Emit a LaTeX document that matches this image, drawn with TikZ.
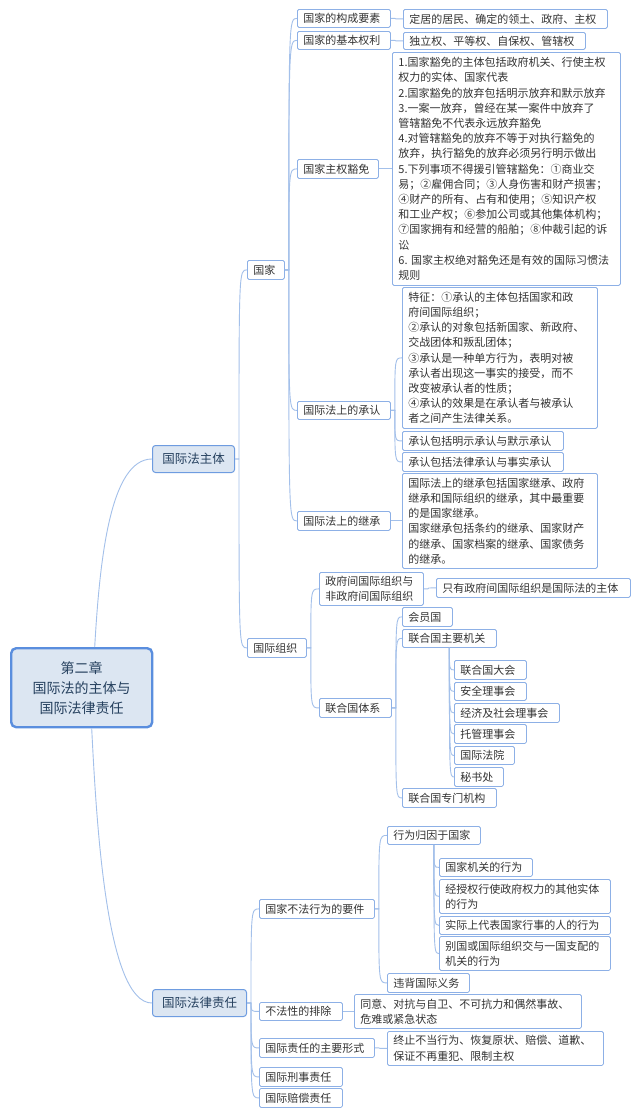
\documentclass[tikz,border=0pt]{standalone}
\usepackage{fontspec}
\newfontfamily\cjk{Noto Sans CJK SC}
\usetikzlibrary{calc}
\definecolor{linec}{HTML}{A3C0EA}
\definecolor{leafb}{HTML}{8DB0E6}
\definecolor{lonef}{HTML}{DCE6F2}
\definecolor{loneb}{HTML}{6E9CE0}
\definecolor{rootb}{HTML}{5A8EDE}
\definecolor{txt}{HTML}{333333}
\definecolor{txtone}{HTML}{25405E}
\begin{document}
\begin{tikzpicture}[x=1pt,y=-1pt,
  con/.style={draw=linec, line width=0.9pt},
  br/.style={to path={let \p1=(\tikztostart), \p2=(\tikztotarget) in -- (\x1+4pt,\y1) .. controls (\x1+4pt,\y2) .. (\p2)}},
  tr/.style={to path={let \p1=(\tikztostart), \p2=(\tikztotarget) in .. controls (\x1,\y2) .. (\p2)}},
  lf/.style={draw=leafb, fill=white, line width=0.8pt, rounded corners=1.5pt, anchor=north west,
    inner xsep=6pt, inner ysep=0pt, align=left, text=txt, font=\cjk\fontsize{11}{15.2}\selectfont},
  lone/.style={draw=loneb, fill=lonef, line width=1pt, rounded corners=3pt, anchor=north west,
    inner sep=0pt, align=center, text=txtone, font=\cjk\fontsize{12.5}{15}\selectfont},
  rootbox/.style={draw=rootb, fill=lonef, line width=2.4pt, rounded corners=5pt, anchor=north west,
    inner sep=0pt, align=center, text=txtone, font=\cjk\fontsize{14}{20}\selectfont}
]
\useasboundingbox (0,0) rectangle (640,1117);
\fill[white] (0,0) rectangle (640,1117);

% root and level 1
\node[rootbox, minimum width=141pt, minimum height=79pt] (root) at (10,647) {第二章\\国际法的主体与\\国际法律责任};
\node[lone, minimum width=82pt, minimum height=27pt] (zhuti) at (152,445) {国际法主体};
\node[lone, minimum width=94pt, minimum height=27pt] (zeren) at (152,989) {国际法律责任};

% 国家 branch
\node[lf, text width=25pt, minimum height=19pt] (guojia) at (247,260) {国家};
\node[lf, text width=81pt, minimum height=18pt] (goucheng) at (297,9) {国家的构成要素};
\node[lf, text width=192pt, minimum height=19pt] (gc2) at (403,9) {定居的居民、确定的领土、政府、主权};
\node[lf, text width=81pt, minimum height=18pt] (quanli) at (297,31) {国家的基本权利};
\node[lf, text width=170pt, minimum height=17pt] (ql2) at (403,32) {独立权、平等权、自保权、管辖权};
\node[lf, text width=69pt, minimum height=19pt] (huomian) at (297,159) {国家主权豁免};
\node[lf, text width=216pt, minimum height=233pt] (hm2) at (392,52) {1.国家豁免的主体包括政府机关、行使主权\\权力的实体、国家代表\\2.国家豁免的放弃包括明示放弃和默示放弃\\3.一案一放弃，曾经在某一案件中放弃了\\管辖豁免不代表永远放弃豁免\\4.对管辖豁免的放弃不等于对执行豁免的\\放弃，执行豁免的放弃必须另行明示做出\\5.下列事项不得援引管辖豁免：①商业交\\易；②雇佣合同；③人身伤害和财产损害；\\④财产的所有、占有和使用；⑤知识产权\\和工业产权；⑥参加公司或其他集体机构；\\⑦国家拥有和经营的船舶；⑧仲裁引起的诉\\讼\\6.~国家主权绝对豁免还是有效的国际习惯法\\规则};
\node[lf, text width=81pt, minimum height=18pt] (chengren) at (297,401) {国际法上的承认};
\node[lf, text width=183pt, minimum height=141pt] (cr1) at (402,287) {特征：①承认的主体包括国家和政\\府间国际组织；\\②承认的对象包括新国家、新政府、\\交战团体和叛乱团体；\\③承认是一种单方行为，表明对被\\承认者出现这一事实的接受，而不\\改变被承认者的性质；\\④承认的效果是在承认者与被承认\\者之间产生法律关系。};
\node[lf, text width=149pt, minimum height=19pt] (cr2) at (402,431) {承认包括明示承认与默示承认};
\node[lf, text width=149pt, minimum height=19pt] (cr3) at (402,452) {承认包括法律承认与事实承认};
\node[lf, text width=81pt, minimum height=19pt] (jicheng) at (297,511) {国际法上的继承};
\node[lf, text width=183pt, minimum height=95pt] (jc2) at (402,473) {国际法上的继承包括国家继承、政府\\继承和国际组织的继承，其中最重要\\的是国家继承。\\国家继承包括条约的继承、国家财产\\的继承、国家档案的继承、国家债务\\的继承。};

% 国际组织 branch
\node[lf, text width=47pt, minimum height=19pt] (zuzhi) at (247,638) {国际组织};
\node[lf, text width=92pt, minimum height=33pt] (zhengfu) at (319,572) {政府间国际组织与\\非政府间国际组织};
\node[lf, text width=182pt, minimum height=19pt] (zf2) at (436,578) {只有政府间国际组织是国际法的主体};
\node[lf, text width=60pt, minimum height=19pt] (lhg) at (319,698) {联合国体系};
\node[lf, text width=38pt, minimum height=19pt] (hyg) at (402,607) {会员国};
\node[lf, text width=82pt, minimum height=18pt] (zyjg) at (402,629) {联合国主要机关};
\node[lf, text width=60pt, minimum height=19pt] (dh) at (454,660) {联合国大会};
\node[lf, text width=60pt, minimum height=18pt] (aq) at (454,682) {安全理事会};
\node[lf, text width=93pt, minimum height=19pt] (js) at (454,703) {经济及社会理事会};
\node[lf, text width=60pt, minimum height=19pt] (tg) at (454,724) {托管理事会};
\node[lf, text width=48pt, minimum height=18pt] (fy) at (454,746) {国际法院};
\node[lf, text width=37pt, minimum height=19pt] (ms) at (454,767) {秘书处};
\node[lf, text width=82pt, minimum height=19pt] (zmjg) at (402,788) {联合国专门机构};

% 国际法律责任 branch
\node[lf, text width=103pt, minimum height=19pt] (yaojian) at (259,899) {国家不法行为的要件};
\node[lf, text width=81pt, minimum height=18pt] (gy) at (387,826) {行为归因于国家};
\node[lf, text width=81pt, minimum height=18pt] (ga) at (439,858) {国家机关的行为};
\node[lf, text width=159pt, minimum height=34pt] (gb) at (439,879) {经授权行使政府权力的其他实体\\的行为};
\node[lf, text width=159pt, minimum height=18pt] (gc) at (439,916) {实际上代表国家行事的人的行为};
\node[lf, text width=159pt, minimum height=34pt] (gd) at (439,936) {别国或国际组织交与一国支配的\\机关的行为};
\node[lf, text width=70pt, minimum height=19pt] (wb) at (387,973) {违背国际义务};
\node[lf, text width=71pt, minimum height=18pt] (paichu) at (259,1002) {不法性的排除};
\node[lf, text width=215pt, minimum height=34pt] (pc2) at (354,994) {同意、对抗与自卫、不可抗力和偶然事故、\\危难或紧急状态};
\node[lf, text width=103pt, minimum height=19pt] (xingshi) at (259,1038) {国际责任的主要形式};
\node[lf, text width=204pt, minimum height=34pt] (xs2) at (387,1031) {终止不当行为、恢复原状、赔偿、道歉、\\保证不再重犯、限制主权};
\node[lf, text width=71pt, minimum height=19pt] (xingshi2) at (259,1067) {国际刑事责任};
\node[lf, text width=71pt, minimum height=19pt] (peichang) at (259,1088) {国际赔偿责任};

% connectors
\draw[con] ([xshift=13pt]root.north) .. controls +(5,-87) and +(-42,0) .. (zhuti.west);
\draw[con] ([xshift=10pt]root.south) .. controls +(5,100) and +(-45,0) .. (zeren.west);

\foreach \c in {guojia,zuzhi} \draw[con] (zhuti.east) to[br] (\c.west);
\foreach \c in {goucheng,quanli,huomian,chengren,jicheng} \draw[con] (guojia.east) to[br] (\c.west);
\draw[con] (goucheng.east) to[br] (gc2.west);
\draw[con] (quanli.east) to[br] (ql2.west);
\draw[con] (huomian.east) to[br] (hm2.west);
\foreach \c in {cr1,cr2,cr3} \draw[con] (chengren.east) to[br] (\c.west);
\draw[con] (jicheng.east) to[br] (jc2.west);

\foreach \c in {zhengfu,lhg} \draw[con] (zuzhi.east) to[br] (\c.west);
\draw[con] (zhengfu.east) to[br] (zf2.west);
\foreach \c in {hyg,zyjg,zmjg} \draw[con] (lhg.east) to[br] (\c.west);
\foreach \c in {dh,aq,js,tg,fy,ms} \draw[con] (zyjg.south) to[tr] (\c.west);

\foreach \c in {yaojian,paichu,xingshi,xingshi2,peichang} \draw[con] (zeren.east) to[br] (\c.west);
\foreach \c in {gy,wb} \draw[con] (yaojian.east) to[br] (\c.west);
\foreach \c in {ga,gb,gc,gd} \draw[con] (gy.south) to[tr] (\c.west);
\draw[con] (paichu.east) to[br] (pc2.west);
\draw[con] (xingshi.east) to[br] (xs2.west);
\end{tikzpicture}
\end{document}
